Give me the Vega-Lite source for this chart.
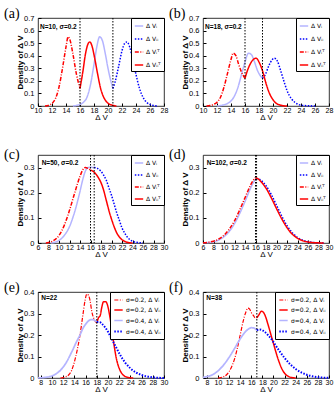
{
"$schema": "https://vega.github.io/schema/vega-lite/v6.json",
"background": "white",
"padding": {"left": 3, "top": 6, "right": 2, "bottom": 0},
"config": {
 "view": {"stroke": "black", "strokeWidth": 0.8},
 "axis": {"grid": false, "domain": false, "tickColor": "black", "tickSize": -3, "tickCount": 40, "labelPadding": 5, "labelFont": "Liberation Sans", "labelFontSize": 7.5, "labelColor": "black", "titleFont": "Liberation Sans", "titleFontSize": 8, "titleColor": "black", "labelOverlap": false, "labelFlush": false, "labelBound": false},
 "axisY": {"titleFontWeight": "bold", "titlePadding": -1, "labelPadding": 7},
 "axisX": {"titleFontWeight": "normal", "titlePadding": 0, "labelPadding": 3, "labelFontSize": 7},
 "title": {"font": "Liberation Serif", "fontSize": 14, "fontWeight": "normal", "anchor": "start", "frame": "group", "dx": -34, "offset": -7, "baseline": "alphabetic", "color": "black"},
 "legend": {"orient": "top-right", "offset": 0, "padding": 3, "strokeColor": "black", "fillColor": "white", "symbolType": "stroke", "symbolSize": 70, "labelFont": "DejaVu Sans", "labelFontSize": 6, "labelColor": "black", "labelOffset": 2, "title": null, "cornerRadius": 0}
},
"datasets": {
 "a": [
  {"x":15,"y":0,"s":"VI"},{"x":15.5,"y":0.005,"s":"VI"},{"x":16,"y":0.012,"s":"VI"},{"x":16.5,"y":0.03,"s":"VI"},{"x":17,"y":0.07,"s":"VI"},{"x":17.5,"y":0.17,"s":"VI"},{"x":18,"y":0.33,"s":"VI"},{"x":18.4,"y":0.47,"s":"VI"},{"x":18.8,"y":0.55,"s":"VI"},{"x":19.2,"y":0.52,"s":"VI"},{"x":19.6,"y":0.42,"s":"VI"},{"x":20,"y":0.3,"s":"VI"},{"x":20.4,"y":0.2,"s":"VI"},{"x":20.7,"y":0.14,"s":"VI"},
  {"x":20.7,"y":0.14,"s":"VII"},{"x":21,"y":0.19,"s":"VII"},{"x":21.5,"y":0.31,"s":"VII"},{"x":22,"y":0.44,"s":"VII"},{"x":22.4,"y":0.5,"s":"VII"},{"x":22.7,"y":0.51,"s":"VII"},{"x":23.1,"y":0.47,"s":"VII"},{"x":23.5,"y":0.38,"s":"VII"},{"x":24,"y":0.25,"s":"VII"},{"x":24.5,"y":0.14,"s":"VII"},{"x":25,"y":0.07,"s":"VII"},{"x":25.5,"y":0.03,"s":"VII"},{"x":26,"y":0.012,"s":"VII"},{"x":26.5,"y":0.004,"s":"VII"},{"x":27,"y":0,"s":"VII"},
  {"x":11,"y":0,"s":"VIT"},{"x":11.5,"y":0.005,"s":"VIT"},{"x":12,"y":0.02,"s":"VIT"},{"x":12.5,"y":0.06,"s":"VIT"},{"x":13,"y":0.15,"s":"VIT"},{"x":13.5,"y":0.3,"s":"VIT"},{"x":14,"y":0.47,"s":"VIT"},{"x":14.3,"y":0.55,"s":"VIT"},{"x":14.6,"y":0.52,"s":"VIT"},{"x":15,"y":0.41,"s":"VIT"},{"x":15.5,"y":0.25,"s":"VIT"},{"x":16,"y":0.14,"s":"VIT"},
  {"x":16,"y":0.14,"s":"VIIT"},{"x":16.4,"y":0.27,"s":"VIIT"},{"x":16.8,"y":0.42,"s":"VIIT"},{"x":17.2,"y":0.5,"s":"VIIT"},{"x":17.4,"y":0.51,"s":"VIIT"},{"x":17.7,"y":0.48,"s":"VIIT"},{"x":18.1,"y":0.38,"s":"VIIT"},{"x":18.5,"y":0.26,"s":"VIIT"},{"x":18.9,"y":0.15,"s":"VIIT"},{"x":19.3,"y":0.08,"s":"VIIT"},{"x":19.7,"y":0.04,"s":"VIIT"},{"x":20.2,"y":0.015,"s":"VIIT"},{"x":20.7,"y":0.005,"s":"VIIT"},{"x":21.2,"y":0,"s":"VIIT"}
 ],
 "b": [
  {"x":12,"y":0,"s":"VI"},{"x":12.5,"y":0.004,"s":"VI"},{"x":13,"y":0.01,"s":"VI"},{"x":13.5,"y":0.02,"s":"VI"},{"x":14,"y":0.04,"s":"VI"},{"x":14.5,"y":0.08,"s":"VI"},{"x":15,"y":0.15,"s":"VI"},{"x":15.5,"y":0.25,"s":"VI"},{"x":16,"y":0.35,"s":"VI"},{"x":16.5,"y":0.42,"s":"VI"},{"x":16.9,"y":0.41,"s":"VI"},{"x":17.3,"y":0.36,"s":"VI"},{"x":17.8,"y":0.28,"s":"VI"},{"x":18.2,"y":0.24,"s":"VI"},{"x":18.5,"y":0.22,"s":"VI"},
  {"x":18.5,"y":0.22,"s":"VII"},{"x":18.9,"y":0.25,"s":"VII"},{"x":19.4,"y":0.32,"s":"VII"},{"x":19.9,"y":0.37,"s":"VII"},{"x":20.2,"y":0.38,"s":"VII"},{"x":20.6,"y":0.36,"s":"VII"},{"x":21.1,"y":0.28,"s":"VII"},{"x":21.6,"y":0.19,"s":"VII"},{"x":22.1,"y":0.11,"s":"VII"},{"x":22.6,"y":0.06,"s":"VII"},{"x":23.1,"y":0.03,"s":"VII"},{"x":23.6,"y":0.013,"s":"VII"},{"x":24.2,"y":0.005,"s":"VII"},{"x":25,"y":0.002,"s":"VII"},{"x":26,"y":0,"s":"VII"},
  {"x":10.5,"y":0,"s":"VIT"},{"x":11,"y":0.004,"s":"VIT"},{"x":11.5,"y":0.012,"s":"VIT"},{"x":12,"y":0.03,"s":"VIT"},{"x":12.5,"y":0.07,"s":"VIT"},{"x":13,"y":0.15,"s":"VIT"},{"x":13.5,"y":0.26,"s":"VIT"},{"x":14,"y":0.37,"s":"VIT"},{"x":14.3,"y":0.42,"s":"VIT"},{"x":14.7,"y":0.4,"s":"VIT"},{"x":15.1,"y":0.33,"s":"VIT"},{"x":15.5,"y":0.27,"s":"VIT"},{"x":16,"y":0.22,"s":"VIT"},
  {"x":16,"y":0.22,"s":"VIIT"},{"x":16.4,"y":0.29,"s":"VIIT"},{"x":16.8,"y":0.34,"s":"VIIT"},{"x":17.2,"y":0.37,"s":"VIIT"},{"x":17.6,"y":0.38,"s":"VIIT"},{"x":18,"y":0.35,"s":"VIIT"},{"x":18.5,"y":0.28,"s":"VIIT"},{"x":19,"y":0.18,"s":"VIIT"},{"x":19.5,"y":0.1,"s":"VIIT"},{"x":20,"y":0.05,"s":"VIIT"},{"x":20.5,"y":0.02,"s":"VIIT"},{"x":21,"y":0.008,"s":"VIIT"},{"x":21.5,"y":0.002,"s":"VIIT"},{"x":22,"y":0,"s":"VIIT"}
 ],
 "c": [
  {"x":8.5,"y":0,"s":"VI"},{"x":9,"y":0.002,"s":"VI"},{"x":10,"y":0.01,"s":"VI"},{"x":11,"y":0.03,"s":"VI"},{"x":12,"y":0.065,"s":"VI"},{"x":13,"y":0.125,"s":"VI"},{"x":14,"y":0.205,"s":"VI"},{"x":14.5,"y":0.25,"s":"VI"},{"x":15,"y":0.285,"s":"VI"},{"x":15.5,"y":0.3,"s":"VI"},{"x":16,"y":0.301,"s":"VI"},{"x":16.7,"y":0.3,"s":"VI"},
  {"x":16.7,"y":0.3,"s":"VII"},{"x":17.3,"y":0.297,"s":"VII"},{"x":18,"y":0.285,"s":"VII"},{"x":18.5,"y":0.27,"s":"VII"},{"x":19,"y":0.25,"s":"VII"},{"x":19.5,"y":0.22,"s":"VII"},{"x":20,"y":0.19,"s":"VII"},{"x":20.5,"y":0.155,"s":"VII"},{"x":21,"y":0.12,"s":"VII"},{"x":21.5,"y":0.09,"s":"VII"},{"x":22,"y":0.06,"s":"VII"},{"x":22.5,"y":0.04,"s":"VII"},{"x":23,"y":0.024,"s":"VII"},{"x":23.5,"y":0.013,"s":"VII"},{"x":24,"y":0.007,"s":"VII"},{"x":25,"y":0.002,"s":"VII"},{"x":26,"y":0,"s":"VII"},
  {"x":7.5,"y":0,"s":"VIT"},{"x":8,"y":0.002,"s":"VIT"},{"x":9,"y":0.01,"s":"VIT"},{"x":10,"y":0.03,"s":"VIT"},{"x":11,"y":0.07,"s":"VIT"},{"x":12,"y":0.13,"s":"VIT"},{"x":13,"y":0.2,"s":"VIT"},{"x":14,"y":0.265,"s":"VIT"},{"x":14.5,"y":0.29,"s":"VIT"},{"x":15,"y":0.3,"s":"VIT"},{"x":15.5,"y":0.297,"s":"VIT"},{"x":16,"y":0.29,"s":"VIT"},
  {"x":16,"y":0.29,"s":"VIIT"},{"x":16.5,"y":0.285,"s":"VIIT"},{"x":17,"y":0.275,"s":"VIIT"},{"x":17.5,"y":0.26,"s":"VIIT"},{"x":18,"y":0.24,"s":"VIIT"},{"x":18.5,"y":0.21,"s":"VIIT"},{"x":19,"y":0.17,"s":"VIIT"},{"x":19.5,"y":0.13,"s":"VIIT"},{"x":20,"y":0.095,"s":"VIIT"},{"x":20.5,"y":0.065,"s":"VIIT"},{"x":21,"y":0.04,"s":"VIIT"},{"x":21.5,"y":0.024,"s":"VIIT"},{"x":22,"y":0.013,"s":"VIIT"},{"x":22.5,"y":0.007,"s":"VIIT"},{"x":23,"y":0.003,"s":"VIIT"},{"x":24,"y":0,"s":"VIIT"}
 ],
 "d": [
  {"x":6,"y":0.001,"s":"VI"},{"x":7,"y":0.002,"s":"VI"},{"x":8,"y":0.005,"s":"VI"},{"x":9,"y":0.012,"s":"VI"},{"x":10,"y":0.025,"s":"VI"},{"x":11,"y":0.046,"s":"VI"},{"x":12,"y":0.077,"s":"VI"},{"x":13,"y":0.118,"s":"VI"},{"x":14,"y":0.165,"s":"VI"},{"x":15,"y":0.215,"s":"VI"},{"x":15.5,"y":0.237,"s":"VI"},{"x":16,"y":0.253,"s":"VI"},{"x":16.15,"y":0.256,"s":"VI"},
  {"x":16.15,"y":0.256,"s":"VII"},{"x":16.6,"y":0.255,"s":"VII"},{"x":17,"y":0.25,"s":"VII"},{"x":18,"y":0.228,"s":"VII"},{"x":19,"y":0.193,"s":"VII"},{"x":20,"y":0.15,"s":"VII"},{"x":21,"y":0.107,"s":"VII"},{"x":22,"y":0.069,"s":"VII"},{"x":23,"y":0.041,"s":"VII"},{"x":24,"y":0.022,"s":"VII"},{"x":25,"y":0.011,"s":"VII"},{"x":26,"y":0.005,"s":"VII"},{"x":27,"y":0.002,"s":"VII"},{"x":28,"y":0.001,"s":"VII"},{"x":29,"y":0,"s":"VII"},
  {"x":6,"y":0.001,"s":"VIT"},{"x":7,"y":0.003,"s":"VIT"},{"x":8,"y":0.007,"s":"VIT"},{"x":9,"y":0.016,"s":"VIT"},{"x":10,"y":0.031,"s":"VIT"},{"x":11,"y":0.055,"s":"VIT"},{"x":12,"y":0.088,"s":"VIT"},{"x":13,"y":0.132,"s":"VIT"},{"x":14,"y":0.18,"s":"VIT"},{"x":15,"y":0.228,"s":"VIT"},{"x":15.5,"y":0.247,"s":"VIT"},{"x":16,"y":0.26,"s":"VIT"},
  {"x":16,"y":0.26,"s":"VIIT"},{"x":16.5,"y":0.255,"s":"VIIT"},{"x":17,"y":0.245,"s":"VIIT"},{"x":18,"y":0.218,"s":"VIIT"},{"x":19,"y":0.18,"s":"VIIT"},{"x":20,"y":0.137,"s":"VIIT"},{"x":21,"y":0.096,"s":"VIIT"},{"x":22,"y":0.061,"s":"VIIT"},{"x":23,"y":0.035,"s":"VIIT"},{"x":24,"y":0.019,"s":"VIIT"},{"x":25,"y":0.009,"s":"VIIT"},{"x":26,"y":0.004,"s":"VIIT"},{"x":27,"y":0.0015,"s":"VIIT"},{"x":28,"y":0.0005,"s":"VIIT"},{"x":29,"y":0,"s":"VIIT"}
 ],
 "e": [
  {"x":11.5,"y":0,"s":"A"},{"x":12,"y":0.002,"s":"A"},{"x":12.5,"y":0.006,"s":"A"},{"x":13,"y":0.015,"s":"A"},{"x":13.5,"y":0.035,"s":"A"},{"x":14,"y":0.075,"s":"A"},{"x":14.5,"y":0.13,"s":"A"},{"x":15,"y":0.2,"s":"A"},{"x":15.5,"y":0.29,"s":"A"},{"x":15.9,"y":0.36,"s":"A"},{"x":16.2,"y":0.39,"s":"A"},{"x":16.5,"y":0.385,"s":"A"},{"x":16.8,"y":0.36,"s":"A"},{"x":17.1,"y":0.31,"s":"A"},{"x":17.5,"y":0.275,"s":"A"},{"x":18,"y":0.255,"s":"A"},
  {"x":18,"y":0.255,"s":"B"},{"x":18.3,"y":0.28,"s":"B"},{"x":18.6,"y":0.29,"s":"B"},{"x":18.9,"y":0.33,"s":"B"},{"x":19.2,"y":0.355,"s":"B"},{"x":19.6,"y":0.355,"s":"B"},{"x":19.9,"y":0.34,"s":"B"},{"x":20.3,"y":0.29,"s":"B"},{"x":20.7,"y":0.22,"s":"B"},{"x":21.1,"y":0.15,"s":"B"},{"x":21.5,"y":0.09,"s":"B"},{"x":22,"y":0.045,"s":"B"},{"x":22.5,"y":0.02,"s":"B"},{"x":23,"y":0.008,"s":"B"},{"x":23.5,"y":0.003,"s":"B"},{"x":24,"y":0.001,"s":"B"},{"x":24.5,"y":0,"s":"B"},
  {"x":7.5,"y":0,"s":"C"},{"x":8.5,"y":0.002,"s":"C"},{"x":9.5,"y":0.006,"s":"C"},{"x":10.5,"y":0.016,"s":"C"},{"x":11.5,"y":0.036,"s":"C"},{"x":12.5,"y":0.07,"s":"C"},{"x":13.5,"y":0.12,"s":"C"},{"x":14.5,"y":0.175,"s":"C"},{"x":15,"y":0.2,"s":"C"},{"x":15.5,"y":0.23,"s":"C"},{"x":16,"y":0.25,"s":"C"},{"x":16.5,"y":0.265,"s":"C"},{"x":17,"y":0.272,"s":"C"},{"x":17.5,"y":0.27,"s":"C"},{"x":18,"y":0.26,"s":"C"},
  {"x":18,"y":0.26,"s":"D"},{"x":18.5,"y":0.26,"s":"D"},{"x":19,"y":0.25,"s":"D"},{"x":19.5,"y":0.235,"s":"D"},{"x":20,"y":0.215,"s":"D"},{"x":20.5,"y":0.19,"s":"D"},{"x":21,"y":0.165,"s":"D"},{"x":21.5,"y":0.14,"s":"D"},{"x":22,"y":0.115,"s":"D"},{"x":22.5,"y":0.093,"s":"D"},{"x":23,"y":0.074,"s":"D"},{"x":24,"y":0.045,"s":"D"},{"x":25,"y":0.026,"s":"D"},{"x":26,"y":0.014,"s":"D"},{"x":27,"y":0.007,"s":"D"},{"x":28,"y":0.003,"s":"D"},{"x":29,"y":0.001,"s":"D"},{"x":30,"y":0,"s":"D"}
 ],
 "f": [
  {"x":10,"y":0,"s":"A"},{"x":10.5,"y":0.002,"s":"A"},{"x":11,"y":0.006,"s":"A"},{"x":11.5,"y":0.014,"s":"A"},{"x":12,"y":0.03,"s":"A"},{"x":12.5,"y":0.055,"s":"A"},{"x":13,"y":0.09,"s":"A"},{"x":13.5,"y":0.14,"s":"A"},{"x":14,"y":0.2,"s":"A"},{"x":14.5,"y":0.26,"s":"A"},{"x":15,"y":0.305,"s":"A"},{"x":15.4,"y":0.325,"s":"A"},{"x":15.7,"y":0.32,"s":"A"},{"x":16,"y":0.305,"s":"A"},{"x":16.4,"y":0.29,"s":"A"},{"x":16.7,"y":0.28,"s":"A"},{"x":17,"y":0.28,"s":"A"},
  {"x":17,"y":0.28,"s":"B"},{"x":17.4,"y":0.295,"s":"B"},{"x":17.8,"y":0.31,"s":"B"},{"x":18.1,"y":0.308,"s":"B"},{"x":18.5,"y":0.29,"s":"B"},{"x":19,"y":0.25,"s":"B"},{"x":19.5,"y":0.205,"s":"B"},{"x":20,"y":0.16,"s":"B"},{"x":20.5,"y":0.115,"s":"B"},{"x":21,"y":0.075,"s":"B"},{"x":21.5,"y":0.043,"s":"B"},{"x":22,"y":0.022,"s":"B"},{"x":22.5,"y":0.01,"s":"B"},{"x":23,"y":0.004,"s":"B"},{"x":23.5,"y":0.0015,"s":"B"},{"x":24,"y":0,"s":"B"},
  {"x":7.3,"y":0.003,"s":"C"},{"x":8,"y":0.006,"s":"C"},{"x":9,"y":0.015,"s":"C"},{"x":10,"y":0.033,"s":"C"},{"x":11,"y":0.06,"s":"C"},{"x":12,"y":0.096,"s":"C"},{"x":13,"y":0.138,"s":"C"},{"x":14,"y":0.182,"s":"C"},{"x":15,"y":0.217,"s":"C"},{"x":15.5,"y":0.228,"s":"C"},{"x":16,"y":0.234,"s":"C"},{"x":16.5,"y":0.232,"s":"C"},{"x":17,"y":0.222,"s":"C"},
  {"x":17,"y":0.222,"s":"D"},{"x":17.5,"y":0.226,"s":"D"},{"x":18,"y":0.222,"s":"D"},{"x":18.5,"y":0.213,"s":"D"},{"x":19,"y":0.2,"s":"D"},{"x":19.5,"y":0.185,"s":"D"},{"x":20,"y":0.167,"s":"D"},{"x":20.5,"y":0.147,"s":"D"},{"x":21,"y":0.128,"s":"D"},{"x":22,"y":0.093,"s":"D"},{"x":23,"y":0.064,"s":"D"},{"x":24,"y":0.042,"s":"D"},{"x":25,"y":0.026,"s":"D"},{"x":26,"y":0.015,"s":"D"},{"x":27,"y":0.008,"s":"D"},{"x":28,"y":0.004,"s":"D"},{"x":29,"y":0.0015,"s":"D"},{"x":30,"y":0.0005,"s":"D"}
 ]
},
"columns": 2,
"spacing": {"row": 49, "column": 39},
"bounds": "flush",
"resolve": {"scale": {"color": "independent", "strokeDash": "independent", "strokeWidth": "independent", "x": "independent", "y": "independent"}, "legend": {"color": "independent", "strokeDash": "independent", "strokeWidth": "independent"}},
"concat": [
  {"width": 126, "height": 88, "title": "(a)", "layer": [
   {"data": {"name": "a"}, "mark": {"type": "line", "interpolate": "monotone"}, "encoding": {
    "x": {"field": "x", "type": "quantitative", "scale": {"domain": [10, 28], "nice": false}, "axis": {"values": [10,12,14,16,18,20,22,24,26,28], "format": "d", "labelOverlap": false, "title": "Δ V"}},
    "y": {"field": "y", "type": "quantitative", "scale": {"domain": [0, 0.7], "nice": false}, "axis": {"values": [0,0.1,0.2,0.3,0.4,0.5,0.6,0.7], "labelOverlap": false, "format": "~g", "title": "Density of Δ V"}},
    "color": {"field": "s", "type": "nominal", "scale": {"domain": ["VI","VII","VIT","VIIT"], "range": ["#b4b4ff","#0000ff","#ff0000","#ff0000"]}, "legend": {"rowPadding": 5, "labelExpr": "datum.label == 'VI' ? 'Δ Vᵢ' : datum.label == 'VII' ? 'Δ Vᵢᵢ' : datum.label == 'VIT' ? 'Δ Vᵢᵀ' : 'Δ Vᵢᵢᵀ'"}},
    "strokeDash": {"field": "s", "type": "nominal", "scale": {"domain": ["VI","VII","VIT","VIIT"], "range": [[1,0],[1.5,1.5],[4,1.5,1,1.5],[1,0]]}, "legend": {"rowPadding": 5, "labelExpr": "datum.label == 'VI' ? 'Δ Vᵢ' : datum.label == 'VII' ? 'Δ Vᵢᵢ' : datum.label == 'VIT' ? 'Δ Vᵢᵀ' : 'Δ Vᵢᵢᵀ'"}},
    "strokeWidth": {"field": "s", "type": "nominal", "scale": {"domain": ["VI","VII","VIT","VIIT"], "range": [1.5,1.5,1.2,2]}, "legend": {"rowPadding": 5, "labelExpr": "datum.label == 'VI' ? 'Δ Vᵢ' : datum.label == 'VII' ? 'Δ Vᵢᵢ' : datum.label == 'VIT' ? 'Δ Vᵢᵀ' : 'Δ Vᵢᵢᵀ'"}}
   }},
   {"data": {"values": [{"x": 16}, {"x": 20.7}]}, "mark": {"type": "rule", "color": "black", "strokeDash": [1.5,1.5], "strokeWidth": 1}, "encoding": {"x": {"field": "x", "type": "quantitative"}}},
   {"data": {"values": [{"x": 10.3, "y": 0.63, "label": "N=10, σ=0.2"}]}, "mark": {"type": "text", "align": "left", "baseline": "middle", "fontWeight": "bold", "fontSize": 6.5, "font": "Liberation Sans", "color": "black"}, "encoding": {"x": {"field": "x", "type": "quantitative"}, "y": {"field": "y", "type": "quantitative"}, "text": {"field": "label"}}}
  ]},
  {"width": 126, "height": 88, "title": "(b)", "layer": [
   {"data": {"name": "b"}, "mark": {"type": "line", "interpolate": "monotone"}, "encoding": {
    "x": {"field": "x", "type": "quantitative", "scale": {"domain": [10, 28], "nice": false}, "axis": {"values": [10,12,14,16,18,20,22,24,26,28], "format": "d", "labelOverlap": false, "title": "Δ V"}},
    "y": {"field": "y", "type": "quantitative", "scale": {"domain": [0, 0.7], "nice": false}, "axis": {"values": [0,0.1,0.2,0.3,0.4,0.5,0.6,0.7], "labelOverlap": false, "format": "~g", "title": "Density of Δ V"}},
    "color": {"field": "s", "type": "nominal", "scale": {"domain": ["VI","VII","VIT","VIIT"], "range": ["#b4b4ff","#0000ff","#ff0000","#ff0000"]}, "legend": {"rowPadding": 5, "labelExpr": "datum.label == 'VI' ? 'Δ Vᵢ' : datum.label == 'VII' ? 'Δ Vᵢᵢ' : datum.label == 'VIT' ? 'Δ Vᵢᵀ' : 'Δ Vᵢᵢᵀ'"}},
    "strokeDash": {"field": "s", "type": "nominal", "scale": {"domain": ["VI","VII","VIT","VIIT"], "range": [[1,0],[1.5,1.5],[4,1.5,1,1.5],[1,0]]}, "legend": {"rowPadding": 5, "labelExpr": "datum.label == 'VI' ? 'Δ Vᵢ' : datum.label == 'VII' ? 'Δ Vᵢᵢ' : datum.label == 'VIT' ? 'Δ Vᵢᵀ' : 'Δ Vᵢᵢᵀ'"}},
    "strokeWidth": {"field": "s", "type": "nominal", "scale": {"domain": ["VI","VII","VIT","VIIT"], "range": [1.5,1.5,1.2,2]}, "legend": {"rowPadding": 5, "labelExpr": "datum.label == 'VI' ? 'Δ Vᵢ' : datum.label == 'VII' ? 'Δ Vᵢᵢ' : datum.label == 'VIT' ? 'Δ Vᵢᵀ' : 'Δ Vᵢᵢᵀ'"}}
   }},
   {"data": {"values": [{"x": 16}, {"x": 18.5}]}, "mark": {"type": "rule", "color": "black", "strokeDash": [1.5,1.5], "strokeWidth": 1}, "encoding": {"x": {"field": "x", "type": "quantitative"}}},
   {"data": {"values": [{"x": 10.3, "y": 0.63, "label": "N=18, σ=0.2"}]}, "mark": {"type": "text", "align": "left", "baseline": "middle", "fontWeight": "bold", "fontSize": 6.5, "font": "Liberation Sans", "color": "black"}, "encoding": {"x": {"field": "x", "type": "quantitative"}, "y": {"field": "y", "type": "quantitative"}, "text": {"field": "label"}}}
  ]},
  {"width": 126, "height": 88, "title": "(c)", "layer": [
   {"data": {"name": "c"}, "mark": {"type": "line", "interpolate": "monotone"}, "encoding": {
    "x": {"field": "x", "type": "quantitative", "scale": {"domain": [6, 30], "nice": false}, "axis": {"values": [6,8,10,12,14,16,18,20,22,24,26,28,30], "format": "d", "labelOverlap": false, "title": "Δ V"}},
    "y": {"field": "y", "type": "quantitative", "scale": {"domain": [0, 0.35], "nice": false}, "axis": {"values": [0,0.1,0.2,0.3], "labelOverlap": false, "format": "~g", "title": "Density of Δ V"}},
    "color": {"field": "s", "type": "nominal", "scale": {"domain": ["VI","VII","VIT","VIIT"], "range": ["#b4b4ff","#0000ff","#ff0000","#ff0000"]}, "legend": {"rowPadding": 4, "labelExpr": "datum.label == 'VI' ? 'Δ Vᵢ' : datum.label == 'VII' ? 'Δ Vᵢᵢ' : datum.label == 'VIT' ? 'Δ Vᵢᵀ' : 'Δ Vᵢᵢᵀ'"}},
    "strokeDash": {"field": "s", "type": "nominal", "scale": {"domain": ["VI","VII","VIT","VIIT"], "range": [[1,0],[1.5,1.5],[4,1.5,1,1.5],[1,0]]}, "legend": {"rowPadding": 4, "labelExpr": "datum.label == 'VI' ? 'Δ Vᵢ' : datum.label == 'VII' ? 'Δ Vᵢᵢ' : datum.label == 'VIT' ? 'Δ Vᵢᵀ' : 'Δ Vᵢᵢᵀ'"}},
    "strokeWidth": {"field": "s", "type": "nominal", "scale": {"domain": ["VI","VII","VIT","VIIT"], "range": [1.5,1.5,1.2,2]}, "legend": {"rowPadding": 4, "labelExpr": "datum.label == 'VI' ? 'Δ Vᵢ' : datum.label == 'VII' ? 'Δ Vᵢᵢ' : datum.label == 'VIT' ? 'Δ Vᵢᵀ' : 'Δ Vᵢᵢᵀ'"}}
   }},
   {"data": {"values": [{"x": 16}, {"x": 16.7}]}, "mark": {"type": "rule", "color": "black", "strokeDash": [1.5,1.5], "strokeWidth": 1}, "encoding": {"x": {"field": "x", "type": "quantitative"}}},
   {"data": {"values": [{"x": 6.7, "y": 0.32, "label": "N=50, σ=0.2"}]}, "mark": {"type": "text", "align": "left", "baseline": "middle", "fontWeight": "bold", "fontSize": 6.5, "font": "Liberation Sans", "color": "black"}, "encoding": {"x": {"field": "x", "type": "quantitative"}, "y": {"field": "y", "type": "quantitative"}, "text": {"field": "label"}}}
  ]},
  {"width": 126, "height": 88, "title": "(d)", "layer": [
   {"data": {"name": "d"}, "mark": {"type": "line", "interpolate": "monotone"}, "encoding": {
    "x": {"field": "x", "type": "quantitative", "scale": {"domain": [6, 30], "nice": false}, "axis": {"values": [6,8,10,12,14,16,18,20,22,24,26,28,30], "format": "d", "labelOverlap": false, "title": "Δ V"}},
    "y": {"field": "y", "type": "quantitative", "scale": {"domain": [0, 0.35], "nice": false}, "axis": {"values": [0,0.1,0.2,0.3], "labelOverlap": false, "format": "~g", "title": "Density of Δ V"}},
    "color": {"field": "s", "type": "nominal", "scale": {"domain": ["VI","VII","VIT","VIIT"], "range": ["#b4b4ff","#0000ff","#ff0000","#ff0000"]}, "legend": {"rowPadding": 4, "labelExpr": "datum.label == 'VI' ? 'Δ Vᵢ' : datum.label == 'VII' ? 'Δ Vᵢᵢ' : datum.label == 'VIT' ? 'Δ Vᵢᵀ' : 'Δ Vᵢᵢᵀ'"}},
    "strokeDash": {"field": "s", "type": "nominal", "scale": {"domain": ["VI","VII","VIT","VIIT"], "range": [[1,0],[1.5,1.5],[4,1.5,1,1.5],[1,0]]}, "legend": {"rowPadding": 4, "labelExpr": "datum.label == 'VI' ? 'Δ Vᵢ' : datum.label == 'VII' ? 'Δ Vᵢᵢ' : datum.label == 'VIT' ? 'Δ Vᵢᵀ' : 'Δ Vᵢᵢᵀ'"}},
    "strokeWidth": {"field": "s", "type": "nominal", "scale": {"domain": ["VI","VII","VIT","VIIT"], "range": [1.5,1.5,1.2,2]}, "legend": {"rowPadding": 4, "labelExpr": "datum.label == 'VI' ? 'Δ Vᵢ' : datum.label == 'VII' ? 'Δ Vᵢᵢ' : datum.label == 'VIT' ? 'Δ Vᵢᵀ' : 'Δ Vᵢᵢᵀ'"}}
   }},
   {"data": {"values": [{"x": 16}, {"x": 16.2}]}, "mark": {"type": "rule", "color": "black", "strokeDash": [1.5,1.5], "strokeWidth": 1}, "encoding": {"x": {"field": "x", "type": "quantitative"}}},
   {"data": {"values": [{"x": 6.7, "y": 0.32, "label": "N=102, σ=0.2"}]}, "mark": {"type": "text", "align": "left", "baseline": "middle", "fontWeight": "bold", "fontSize": 6.5, "font": "Liberation Sans", "color": "black"}, "encoding": {"x": {"field": "x", "type": "quantitative"}, "y": {"field": "y", "type": "quantitative"}, "text": {"field": "label"}}}
  ]},
  {"width": 126, "height": 86, "title": "(e)", "layer": [
   {"data": {"name": "e"}, "mark": {"type": "line", "interpolate": "monotone"}, "encoding": {
    "x": {"field": "x", "type": "quantitative", "scale": {"domain": [7.5, 30], "nice": false}, "axis": {"values": [8,10,12,14,16,18,20,22,24,26,28,30], "format": "d", "labelOverlap": false, "title": "Δ V"}},
    "y": {"field": "y", "type": "quantitative", "scale": {"domain": [0, 0.4], "nice": false}, "axis": {"values": [0,0.1,0.2,0.3,0.4], "labelOverlap": false, "format": "~g", "title": "Density of Δ V"}},
    "color": {"field": "s", "type": "nominal", "scale": {"domain": ["A","B","C","D"], "range": ["#ff0000","#ff0000","#b4b4ff","#0000ff"]}, "legend": {"rowPadding": 2, "labelExpr": "datum.label == 'A' ? 'σ=0.2, Δ Vᵢ' : datum.label == 'B' ? 'σ=0.2, Δ Vᵢᵢ' : datum.label == 'C' ? 'σ=0.4, Δ Vᵢ' : 'σ=0.4, Δ Vᵢᵢ'"}},
    "strokeDash": {"field": "s", "type": "nominal", "scale": {"domain": ["A","B","C","D"], "range": [[4,1.5,1,1.5],[1,0],[1,0],[1.5,1.5]]}, "legend": {"rowPadding": 2, "labelExpr": "datum.label == 'A' ? 'σ=0.2, Δ Vᵢ' : datum.label == 'B' ? 'σ=0.2, Δ Vᵢᵢ' : datum.label == 'C' ? 'σ=0.4, Δ Vᵢ' : 'σ=0.4, Δ Vᵢᵢ'"}},
    "strokeWidth": {"field": "s", "type": "nominal", "scale": {"domain": ["A","B","C","D"], "range": [1.2,2,1.5,1.5]}, "legend": {"rowPadding": 2, "labelExpr": "datum.label == 'A' ? 'σ=0.2, Δ Vᵢ' : datum.label == 'B' ? 'σ=0.2, Δ Vᵢᵢ' : datum.label == 'C' ? 'σ=0.4, Δ Vᵢ' : 'σ=0.4, Δ Vᵢᵢ'"}}
   }},
   {"data": {"values": [{"x": 18}]}, "mark": {"type": "rule", "color": "black", "strokeDash": [1.5,1.5], "strokeWidth": 1}, "encoding": {"x": {"field": "x", "type": "quantitative"}}},
   {"data": {"values": [{"x": 8.1, "y": 0.372, "label": "N=22"}]}, "mark": {"type": "text", "align": "left", "baseline": "middle", "fontWeight": "bold", "fontSize": 6.5, "font": "Liberation Sans", "color": "black"}, "encoding": {"x": {"field": "x", "type": "quantitative"}, "y": {"field": "y", "type": "quantitative"}, "text": {"field": "label"}}}
  ]},
  {"width": 126, "height": 86, "title": "(f)", "layer": [
   {"data": {"name": "f"}, "mark": {"type": "line", "interpolate": "monotone"}, "encoding": {
    "x": {"field": "x", "type": "quantitative", "scale": {"domain": [7.3, 30], "nice": false}, "axis": {"values": [8,10,12,14,16,18,20,22,24,26,28,30], "format": "d", "labelOverlap": false, "title": "Δ V"}},
    "y": {"field": "y", "type": "quantitative", "scale": {"domain": [0, 0.4], "nice": false}, "axis": {"values": [0,0.1,0.2,0.3,0.4], "labelOverlap": false, "format": "~g", "title": "Density of Δ V"}},
    "color": {"field": "s", "type": "nominal", "scale": {"domain": ["A","B","C","D"], "range": ["#ff0000","#ff0000","#b4b4ff","#0000ff"]}, "legend": {"rowPadding": 2, "labelExpr": "datum.label == 'A' ? 'σ=0.2, Δ Vᵢ' : datum.label == 'B' ? 'σ=0.2, Δ Vᵢᵢ' : datum.label == 'C' ? 'σ=0.4, Δ Vᵢ' : 'σ=0.4, Δ Vᵢᵢ'"}},
    "strokeDash": {"field": "s", "type": "nominal", "scale": {"domain": ["A","B","C","D"], "range": [[4,1.5,1,1.5],[1,0],[1,0],[1.5,1.5]]}, "legend": {"rowPadding": 2, "labelExpr": "datum.label == 'A' ? 'σ=0.2, Δ Vᵢ' : datum.label == 'B' ? 'σ=0.2, Δ Vᵢᵢ' : datum.label == 'C' ? 'σ=0.4, Δ Vᵢ' : 'σ=0.4, Δ Vᵢᵢ'"}},
    "strokeWidth": {"field": "s", "type": "nominal", "scale": {"domain": ["A","B","C","D"], "range": [1.2,2,1.5,1.5]}, "legend": {"rowPadding": 2, "labelExpr": "datum.label == 'A' ? 'σ=0.2, Δ Vᵢ' : datum.label == 'B' ? 'σ=0.2, Δ Vᵢᵢ' : datum.label == 'C' ? 'σ=0.4, Δ Vᵢ' : 'σ=0.4, Δ Vᵢᵢ'"}}
   }},
   {"data": {"values": [{"x": 17}]}, "mark": {"type": "rule", "color": "black", "strokeDash": [1.5,1.5], "strokeWidth": 1}, "encoding": {"x": {"field": "x", "type": "quantitative"}}},
   {"data": {"values": [{"x": 7.9, "y": 0.372, "label": "N=38"}]}, "mark": {"type": "text", "align": "left", "baseline": "middle", "fontWeight": "bold", "fontSize": 6.5, "font": "Liberation Sans", "color": "black"}, "encoding": {"x": {"field": "x", "type": "quantitative"}, "y": {"field": "y", "type": "quantitative"}, "text": {"field": "label"}}}
  ]}
]
}
